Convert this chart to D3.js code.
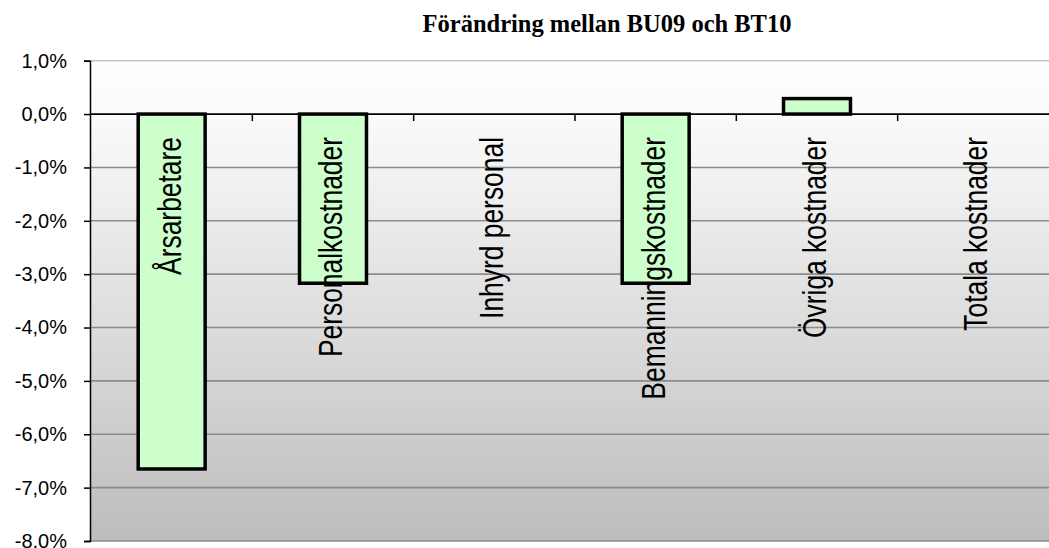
<!DOCTYPE html>
<head>
    <meta charset="utf-8">
    <style>
        body { margin: 0; background: #fff; }
        .bar { fill: #ccffcc; stroke: #000; stroke-width: 3.5; }
        .cat { font-family: "Liberation Sans Narrow", "Arial Narrow", "Liberation Sans", sans-serif; font-size: 33px; fill: #000; }
        .ylab { font-family: "Liberation Sans", Arial, sans-serif; font-size: 20px; fill: #000; }
        .title { font-family: "Liberation Serif", "Times New Roman", serif; font-size: 24.5px; font-weight: bold; }
    </style>
</head>
<svg width="1049" height="548" class="bar-chart"></svg>
<script src="https://cdn.jsdelivr.net/npm/d3@7/dist/d3.min.js"></script>
<script>
    const categories = ["Årsarbetare", "Personalkostnader", "Inhyrd personal", "Bemanningskostnader", "Övriga kostnader", "Totala kostnader"];
    const values = [-6.65, -3.17, 0, -3.17, 0.29, 0];
    const yTicks = [1, 0, -1, -2, -3, -4, -5, -6, -7, -8];
    const title = "Förändring mellan BU09 och BT10";

    var svg = d3.select(".bar-chart");
    var plotLeft = 91, plotRight = 1059, plotTop = 60.7, plotBottom = 541;

    var x = d3.scaleBand().domain(categories).range([plotLeft, plotRight]).paddingInner(0).paddingOuter(0);
    var y = d3.scaleLinear().domain([-8, 1]).range([plotBottom, plotTop]);

    // plot background gradient
    var grad = svg.append("defs").append("linearGradient")
        .attr("id", "bg").attr("x1", 0).attr("y1", 0).attr("x2", 0).attr("y2", 1);
    grad.append("stop").attr("offset", "0%").attr("stop-color", "#ffffff");
    grad.append("stop").attr("offset", "12%").attr("stop-color", "#fafafa");
    grad.append("stop").attr("offset", "100%").attr("stop-color", "#bdbdbd");

    svg.append("rect")
        .attr("x", plotLeft).attr("y", plotTop)
        .attr("width", plotRight - plotLeft).attr("height", plotBottom - plotTop)
        .attr("fill", "url(#bg)");

    // gridlines
    svg.selectAll(".grid")
        .data(yTicks.filter(function(d) { return d !== 0; }))
        .enter().append("line")
        .attr("x1", plotLeft).attr("x2", plotRight)
        .attr("y1", function(d) { return y(d); })
        .attr("y2", function(d) { return y(d); })
        .attr("stroke", function(d) { return d === 1 ? "#c4c4c4" : "#8c8c8c"; })
        .attr("stroke-width", 1.6);

    // y axis
    var yAxis = svg.append("g")
        .attr("transform", "translate(" + (plotLeft - 1) + ",0)")
        .call(d3.axisLeft(y).tickValues(yTicks).tickSize(6).tickPadding(17)
            .tickFormat(function(d) { return d3.format(".1f")(d).replace(".", ",").replace("−", "-") + "%"; }));
    yAxis.select(".domain").attr("stroke", "#000").attr("stroke-width", 1.5);
    yAxis.selectAll(".tick line").attr("stroke", "#000").attr("stroke-width", 1.5);
    yAxis.selectAll(".tick text").attr("class", "ylab").attr("font-size", null).attr("font-family", null);

    // bars
    var bw = x.bandwidth() * 0.415;
    svg.selectAll(".bar")
        .data(values.map(function(v, i) { return {c: categories[i], v: v}; }).filter(function(d) { return d.v !== 0; }))
        .enter().append("rect")
        .attr("class", "bar")
        .attr("x", function(d) { return x(d.c) + (x.bandwidth() - bw) / 2; })
        .attr("y", function(d) { return y(Math.max(0, d.v)); })
        .attr("width", bw)
        .attr("height", function(d) { return Math.abs(y(d.v) - y(0)); });

    // category axis at zero
    var xAxis = svg.append("g")
        .attr("transform", "translate(0," + y(0) + ")");
    xAxis.append("line")
        .attr("x1", plotLeft - 1).attr("x2", plotRight)
        .attr("stroke", "#000").attr("stroke-width", 1.8);
    xAxis.selectAll(".xt")
        .data(categories.slice(1))
        .enter().append("line")
        .attr("x1", function(d) { return x(d); })
        .attr("x2", function(d) { return x(d); })
        .attr("y1", 0).attr("y2", 7)
        .attr("stroke", "#000").attr("stroke-width", 1.5);

    // category labels (rotated, condensed)
    svg.selectAll(".cat")
        .data(categories)
        .enter().append("text")
        .attr("class", "cat")
        .attr("text-anchor", "end")
        .attr("transform", function(d) {
            return "translate(" + (x(d) + x.bandwidth() / 2 + 9) + "," + 137 + ") rotate(-90) scale(0.8,1)";
        })
        .text(function(d) { return d; });

    svg.append("text")
        .attr("class", "title")
        .attr("x", 607).attr("y", 32)
        .attr("text-anchor", "middle")
        .text(title);
</script>
